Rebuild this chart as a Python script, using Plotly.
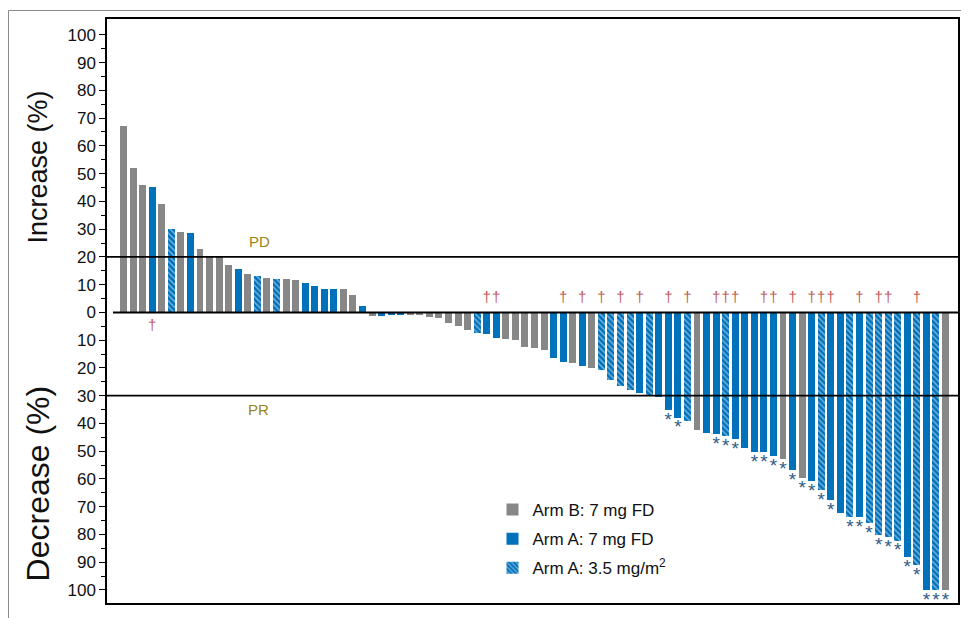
import plotly.graph_objects as go

# ---- data ----
values = [67, 52, 46, 45, 39, 30, 29, 28.5, 23, 20, 20, 17, 15.7, 13.8, 13, 12.3, 12, 12, 11.6, 10.5,
          9.5, 8.6, 8.6, 8.3, 6.1, 2.2, -1.2, -1.2, -1.1, -1.1, -1.1, -1.1, -1.8, -2.2, -3.9, -5,
          -6.5, -7.5, -7.9, -9.3, -9.7, -10, -12.6, -13, -13.4, -16.6, -18, -18.4, -19.4, -20.1,
          -20.9, -24.4, -26.6, -28.1, -29.1, -29.8, -30.4, -35.3, -37.9, -39.3, -42.5, -43.5,
          -43.9, -44.6, -45.7, -48.9, -50.3, -50.3, -51.7, -52.8, -56.7, -59.6, -60.7, -63.9,
          -67.5, -72.1, -73.6, -73.6, -75.8, -80.1, -80.8, -82.2, -88.3, -91.1, -100, -100, -100]
# arm codes: "B" = Arm B 7 mg FD, "A" = Arm A 7 mg FD, "H" = Arm A 3.5 mg/m2
arms = ["B", "B", "B", "A", "B", "H", "B", "A", "B", "B", "B", "B", "A", "B", "H", "B", "H", "B", "B", "A",
        "A", "A", "A", "B", "B", "A", "B", "A", "A", "A", "B", "B", "B", "B", "B", "B",
        "B", "H", "A", "A", "B", "B", "B", "B", "B", "A", "A", "B", "A", "B",
        "H", "H", "H", "H", "A", "H", "A", "A", "A", "H", "B", "A",
        "A", "H", "A", "A", "A", "A", "A", "B", "A", "B", "A", "H",
        "A", "A", "H", "A", "H", "H", "H", "H", "A", "H", "A", "H", "B"]
dagger_bars = [4, 39, 40, 47, 49, 51, 53, 55, 58, 60, 63, 64, 65, 68, 69, 71, 73, 74, 75, 78, 80, 81, 84]
asterisk_bars = [58, 59, 63, 64, 65, 67, 68, 69, 70, 71, 72, 73, 74, 75, 77, 78, 79, 80, 81, 82, 83, 84, 85, 86, 87]
y_tick_vals = list(range(-100, 101, 10))
y_tick_text = [str(abs(v)) for v in y_tick_vals]
y_minor_vals = list(range(-95, 100, 10))
arm_names = {"B": "Arm B: 7 mg FD", "A": "Arm A: 7 mg FD", "H": "Arm A: 3.5 mg/m<sup>2</sup>"}

GRAY = "#878787"
BLUE = "#0071bb"
FONT = "Liberation Sans, Arial, sans-serif"

# page body has an 8px margin: figure is placed at (8, 8)
L, T, PW, PH = 99, 9, 851, 586
W, H = 961, 610

fig = go.Figure()
for code in ["B", "A", "H"]:
    xs = [i for i, a in enumerate(arms) if a == code]
    ys = [values[i] for i in xs]
    marker = dict(color=GRAY if code == "B" else BLUE, line=dict(width=0))
    if code == "H":
        marker["pattern"] = dict(shape="\\", fillmode="overlay", fgcolor="white", size=4, solidity=0.35)
    fig.add_trace(go.Bar(x=xs, y=ys, width=0.73, marker=marker, name=arm_names[code],
                         legendgroup=code, showlegend=True))

# daggers
dx = [b - 1 for b in dagger_bars]
dy = [5.2 if values[b - 1] < 0 else -5 for b in dagger_bars]
fig.add_trace(go.Scatter(x=dx, y=dy, mode="text", text=["†"] * len(dx), textposition="middle center",
                         textfont=dict(color="#c25a56", size=15, family=FONT), showlegend=False,
                         hoverinfo="skip"))
# asterisks
ax_ = [b - 1 for b in asterisk_bars]
ay = [values[b - 1] - 4.0 for b in asterisk_bars]
fig.add_trace(go.Scatter(x=ax_, y=ay, mode="text", text=["*"] * len(ax_), textposition="middle center",
                         textfont=dict(color="#2f5b85", size=19, family=FONT), showlegend=False,
                         hoverinfo="skip"))

# reference lines
fig.add_shape(type="line", xref="paper", yref="y", x0=0, x1=1, y0=20, y1=20,
              line=dict(color="black", width=1.6), layer="above")
fig.add_shape(type="line", xref="paper", yref="y", x0=0, x1=1, y0=-30, y1=-30,
              line=dict(color="black", width=1.6), layer="above")
fig.add_shape(type="line", xref="paper", yref="y", x0=0.007, x1=1, y0=0, y1=0,
              line=dict(color="black", width=2), layer="above")
# outer frame (left and top)
fx = (0.5 - L) / PW
fy = (T + PH - 0.5) / PH
fig.add_shape(type="line", xref="paper", yref="paper", x0=fx, x1=fx, y0=-0.05, y1=fy,
              line=dict(color="#8a8a8a", width=1))
fig.add_shape(type="line", xref="paper", yref="paper", x0=fx, x1=1.02, y0=fy, y1=fy,
              line=dict(color="#8a8a8a", width=1))

fig.add_annotation(text="PD", xref="paper", yref="y", x=(259 - 107) / PW, y=25.4, showarrow=False,
                   xanchor="center", yanchor="middle",
                   font=dict(color="#9a8518", size=15, family=FONT))
fig.add_annotation(text="PR", xref="paper", yref="y", x=(258 - 107) / PW, y=-35.1, showarrow=False,
                   xanchor="center", yanchor="middle",
                   font=dict(color="#9a8518", size=15, family=FONT))
TFONT = "Liberation Sans Narrow, Liberation Sans, sans-serif"
fig.add_annotation(text="Increase (%)", xref="paper", yref="paper", x=(38 - 107) / PW,
                   y=(603 - 166) / PH, textangle=-90, showarrow=False, xanchor="center", yanchor="middle",
                   font=dict(color="#111", size=27, family=TFONT))
fig.add_annotation(text="Decrease (%)", xref="paper", yref="paper", x=(38 - 107) / PW,
                   y=(603 - 483) / PH, textangle=-90, showarrow=False, xanchor="center", yanchor="middle",
                   font=dict(color="#111", size=32, family=TFONT))

fig.update_layout(
    width=W, height=H,
    margin=dict(l=L, r=W - L - PW, t=T, b=H - T - PH),
    paper_bgcolor="white", plot_bgcolor="white",
    barmode="overlay", bargap=0,
    showlegend=True,
    legend=dict(x=0.453, y=0.19, xanchor="left", yanchor="top", bgcolor="rgba(0,0,0,0)",
                font=dict(size=17, family=FONT, color="#111"), tracegroupgap=4, itemwidth=30),
    xaxis=dict(range=[-1.73, 87.31], showticklabels=False, ticks="", showgrid=False, zeroline=False,
               showline=True, mirror=True, linecolor="black", linewidth=1.5),
    yaxis=dict(range=[-104.7, 105.7], tickvals=y_tick_vals, ticktext=y_tick_text, ticks="outside",
               ticklen=6, tickwidth=1.2, tickcolor="black", showgrid=False, zeroline=False,
               showline=True, mirror=True, linecolor="black", linewidth=1.5,
               tickfont=dict(size=17, family=FONT, color="#111"),
               minor=dict(tickvals=y_minor_vals, ticks="outside", ticklen=4, tickwidth=1, tickcolor="black")),
)

fig.write_html("out.html")
